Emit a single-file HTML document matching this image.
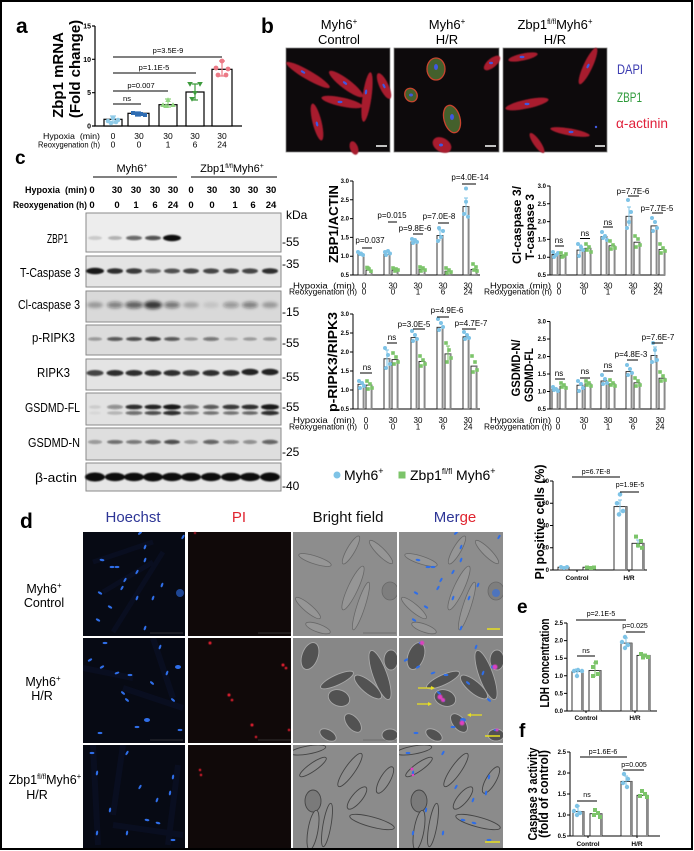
<!DOCTYPE html>
<html><head><meta charset="utf-8"><style>
html,body{margin:0;padding:0;background:#fff;}
svg{display:block;font-family:"Liberation Sans",Arial,sans-serif;}
</style></head><body>
<svg width="694" height="851" viewBox="0 0 694 851" xmlns="http://www.w3.org/2000/svg" xmlns:xlink="http://www.w3.org/1999/xlink">
<defs>
<filter id="bl" x="-30%" y="-150%" width="160%" height="400%"><feGaussianBlur stdDeviation="0.8"/></filter>
<filter id="bl2" x="-30%" y="-150%" width="160%" height="400%"><feGaussianBlur stdDeviation="1.5"/></filter>
<filter id="gl" x="-50%" y="-50%" width="200%" height="200%"><feGaussianBlur stdDeviation="0.5"/></filter>
<filter id="sf" x="-20%" y="-20%" width="140%" height="140%"><feGaussianBlur stdDeviation="0.6"/></filter>
<clipPath id="cp"><rect x="0" y="0" width="104" height="105"/></clipPath>
<g id="hd1">
<g fill="#2f6ee8"><ellipse cx="57" cy="1" rx="2.4" ry="1.1" transform="rotate(-40 57 1)"/><ellipse cx="100" cy="5" rx="2.4" ry="1.1" transform="rotate(-60 100 5)"/><ellipse cx="19" cy="28" rx="2.4" ry="1.1" transform="rotate(10 19 28)"/><ellipse cx="29" cy="35" rx="2.4" ry="1.1"/><ellipse cx="34" cy="35" rx="2.4" ry="1.1"/><ellipse cx="62" cy="15" rx="2.4" ry="1.1" transform="rotate(-70 62 15)"/><ellipse cx="62" cy="28" rx="2.4" ry="1.1" transform="rotate(-70 62 28)"/><ellipse cx="54" cy="40" rx="2.4" ry="1.1" transform="rotate(-60 54 40)"/><ellipse cx="42" cy="48" rx="2.4" ry="1.1" transform="rotate(-60 42 48)"/><ellipse cx="39" cy="56" rx="2.4" ry="1.1" transform="rotate(-60 39 56)"/><ellipse cx="17" cy="61" rx="2.4" ry="1.1" transform="rotate(30 17 61)"/><ellipse cx="54" cy="66" rx="2.4" ry="1.1" transform="rotate(-70 54 66)"/><ellipse cx="70" cy="66" rx="2.4" ry="1.1" transform="rotate(-70 70 66)"/><ellipse cx="79" cy="53" rx="2.4" ry="1.1" transform="rotate(-70 79 53)"/><ellipse cx="27" cy="75" rx="2.4" ry="1.1" transform="rotate(30 27 75)"/><ellipse cx="15" cy="88" rx="2.4" ry="1.1" transform="rotate(30 15 88)"/><ellipse cx="62" cy="96" rx="2.4" ry="1.1" transform="rotate(-70 62 96)"/><ellipse cx="97" cy="61" rx="4" ry="4" opacity="0.6"/></g>
</g>
<g id="hd2">
<g fill="#2f6ee8"><ellipse cx="22" cy="5" rx="2.4" ry="1.1"/><ellipse cx="7" cy="22" rx="2.4" ry="1.1" transform="rotate(-30 7 22)"/><ellipse cx="19" cy="29" rx="2.4" ry="1.1" transform="rotate(-30 19 29)"/><ellipse cx="34" cy="35" rx="2.4" ry="1.1" transform="rotate(-20 34 35)"/><ellipse cx="47" cy="37" rx="2.4" ry="1.1"/><ellipse cx="77" cy="9" rx="2.4" ry="1.1" transform="rotate(-70 77 9)"/><ellipse cx="84" cy="35" rx="2.4" ry="1.1" transform="rotate(-70 84 35)"/><ellipse cx="95" cy="29" rx="3" ry="2"/><ellipse cx="69" cy="45" rx="2.4" ry="1.1" transform="rotate(40 69 45)"/><ellipse cx="40" cy="55" rx="2.4" ry="1.1" transform="rotate(40 40 55)"/><ellipse cx="44" cy="62" rx="2.4" ry="1.1" transform="rotate(40 44 62)"/><ellipse cx="64" cy="82" rx="3" ry="2"/><ellipse cx="54" cy="89" rx="2.4" ry="1.1"/><ellipse cx="17" cy="95" rx="2.4" ry="1.1"/><ellipse cx="97" cy="92" rx="2.4" ry="1.1"/><ellipse cx="90" cy="62" rx="2.4" ry="1.1" transform="rotate(40 90 62)"/></g>
</g>
<g id="hd3">
<g fill="#2f6ee8"><ellipse cx="9" cy="8" rx="2.4" ry="1.1"/><ellipse cx="14" cy="28" rx="2.4" ry="1.1" transform="rotate(-80 14 28)"/><ellipse cx="44" cy="8" rx="2.4" ry="1.1" transform="rotate(-60 44 8)"/><ellipse cx="57" cy="42" rx="2.4" ry="1.1" transform="rotate(-60 57 42)"/><ellipse cx="74" cy="55" rx="2.4" ry="1.1" transform="rotate(-70 74 55)"/><ellipse cx="90" cy="32" rx="2.4" ry="1.1" transform="rotate(-80 90 32)"/><ellipse cx="27" cy="65" rx="2.4" ry="1.1" transform="rotate(-80 27 65)"/><ellipse cx="64" cy="75" rx="2.4" ry="1.1" transform="rotate(10 64 75)"/><ellipse cx="44" cy="88" rx="2.4" ry="1.1" transform="rotate(-80 44 88)"/><ellipse cx="87" cy="48" rx="2.4" ry="1.1" transform="rotate(-80 87 48)"/><ellipse cx="14" cy="88" rx="2.4" ry="1.1" transform="rotate(-80 14 88)"/><ellipse cx="90" cy="95" rx="2.4" ry="1.1"/><ellipse cx="75" cy="78" rx="2.4" ry="1.1" transform="rotate(15 75 78)"/></g>
</g>
<g id="bf1">
<rect x="0" y="0" width="104" height="105" fill="#8d8d8d"/>
<g fill="#969696" stroke="#686868" stroke-width="0.8">
<ellipse cx="22" cy="28" rx="17" ry="4" transform="rotate(18 22 28)"/>
<ellipse cx="58" cy="18" rx="16" ry="4" transform="rotate(-60 58 18)"/>
<ellipse cx="60" cy="56" rx="24" ry="5" transform="rotate(-65 60 56)"/>
<ellipse cx="68" cy="74" rx="25" ry="4" transform="rotate(-72 68 74)"/>
<ellipse cx="15" cy="76" rx="16" ry="4" transform="rotate(40 15 76)"/>
<ellipse cx="97" cy="59" rx="8" ry="9" fill="#7e7e7e"/>
<ellipse cx="25" cy="96" rx="13" ry="4" transform="rotate(20 25 96)"/>
<ellipse cx="88" cy="20" rx="16" ry="4" transform="rotate(45 88 20)"/>
</g>
</g>
<g id="bf2">
<rect x="0" y="0" width="104" height="105" fill="#878787"/>
<g fill="#525252" stroke="#a8a8a8" stroke-width="0.9">
<ellipse cx="17" cy="18" rx="8" ry="14" transform="rotate(20 17 18)"/>
<ellipse cx="87" cy="37" rx="26" ry="7" transform="rotate(70 87 37)"/>
<ellipse cx="44" cy="42" rx="18" ry="5" transform="rotate(-25 44 42)"/>
<ellipse cx="75" cy="49" rx="17" ry="6" transform="rotate(40 75 49)"/>
<ellipse cx="46" cy="60" rx="11" ry="8" transform="rotate(20 46 60)"/>
<ellipse cx="98" cy="22" rx="7" ry="10"/>
<ellipse cx="60" cy="85" rx="11" ry="6" transform="rotate(50 60 85)"/>
<ellipse cx="35" cy="97" rx="9" ry="5" transform="rotate(30 35 97)"/>
<ellipse cx="97" cy="97" rx="8" ry="6"/>
</g>
</g>
<g id="bf3">
<rect x="0" y="0" width="104" height="105" fill="#8b8b8b"/>
<g fill="#8e8e8e" stroke="#444" stroke-width="0.9">
<ellipse cx="20" cy="22" rx="16" ry="4" transform="rotate(-35 20 22)"/>
<ellipse cx="57" cy="25" rx="20" ry="5" transform="rotate(-55 57 25)"/>
<ellipse cx="92" cy="35" rx="15" ry="5" transform="rotate(-60 92 35)"/>
<ellipse cx="20" cy="56" rx="8" ry="11" fill="#7a7a7a"/>
<ellipse cx="64" cy="53" rx="14" ry="5" transform="rotate(-50 64 53)"/>
<ellipse cx="20" cy="85" rx="20" ry="5" transform="rotate(-80 20 85)"/>
<ellipse cx="79" cy="77" rx="23" ry="5" transform="rotate(15 79 77)"/>
<ellipse cx="34" cy="80" rx="22" ry="4" transform="rotate(-80 34 80)"/>
<ellipse cx="15" cy="5" rx="18" ry="4" transform="rotate(-10 15 5)"/>
</g>
</g>
</defs>
<rect width="694" height="851" fill="#fff"/>

<!-- ================= PANEL A ================= -->
<text x="16" y="33" font-size="21" font-weight="bold">a</text>
<text transform="translate(63,75) rotate(-90)" text-anchor="middle" font-size="15" font-weight="bold">Zbp1 mRNA</text>
<text transform="translate(80,69) rotate(-90)" text-anchor="middle" font-size="15" font-weight="bold">(Fold change)</text>
<g stroke="#000" stroke-width="1.2" fill="none">
<path d="M95,26V126H242"/>
<path d="M92,26H95M92,59.3H95M92,92.7H95M92,126H95"/>
</g>
<g font-size="7" font-weight="bold" text-anchor="end">
<text x="91" y="28.5">15</text><text x="91" y="61.8">10</text><text x="91" y="95.2">5</text><text x="91" y="128.5">0</text>
</g>
<g fill="#fff" stroke="#000" stroke-width="1.2">
<rect x="104" y="119.3" width="18" height="6.7"/>
<rect x="128" y="113.3" width="21" height="12.7"/>
<rect x="159" y="104.7" width="18" height="21.3"/>
<rect x="186" y="92" width="18" height="34"/>
<rect x="212" y="69.3" width="20" height="56.7"/>
</g>
<g stroke-width="1.2" fill="none">
<path d="M113,116V123M110,116H116M110,123H116" stroke="#8fcbe8"/>
<path d="M138,112V116M135,112H141M135,116H141" stroke="#2f6db3"/>
<path d="M168,99V107M165,99H171M165,107H171" stroke="#8fd57e"/>
<path d="M195,84V100M192,84H198M192,100H198" stroke="#3d9b3d"/>
<path d="M222,61V76M219,61H225M219,76H225" stroke="#ec7a86"/>
</g>
<g fill="#8fcbe8"><circle cx="108" cy="121" r="2.3"/><circle cx="113" cy="118" r="2.3"/><circle cx="118" cy="120" r="2.3"/><circle cx="111" cy="123" r="2.3"/><circle cx="116" cy="122" r="2.3"/></g>
<g fill="#2f6db3"><rect x="131" y="111" width="4" height="4"/><rect x="135" y="112" width="4" height="4"/><rect x="139" y="112" width="4" height="4"/><rect x="143" y="113" width="4" height="4"/></g>
<g fill="#8fd57e"><polygon points="163,102.2 160.2,107 165.8,107"/><polygon points="168,97.2 165.2,102 170.8,102"/><polygon points="173,102.2 170.2,107 175.8,107"/><polygon points="166,103.2 163.2,108 168.8,108"/></g>
<g fill="#3d9b3d"><polygon points="190,86.8 187.2,82 192.8,82"/><polygon points="200,86.8 197.2,82 202.8,82"/><polygon points="195,95.8 192.2,91 197.8,91"/><polygon points="192,101.8 189.2,97 194.8,97"/></g>
<g fill="#ec7a86"><circle cx="222" cy="61" r="2.4"/><circle cx="216" cy="68" r="2.4"/><circle cx="228" cy="69" r="2.4"/><circle cx="218" cy="75" r="2.4"/><circle cx="226" cy="75" r="2.4"/></g>
<g stroke="#000" stroke-width="1"><path d="M113,104H141M113,91H168M113,73H196M113,57H222"/></g>
<g font-size="7.5" text-anchor="middle">
<text x="127" y="101">ns</text><text x="141" y="88">p=0.007</text><text x="154" y="70">p=1.1E-5</text><text x="168" y="53">p=3.5E-9</text>
</g>
<g font-size="8.5" text-anchor="middle">
<text x="113" y="139">0</text><text x="139" y="139">30</text><text x="168" y="139">30</text><text x="195" y="139">30</text><text x="222" y="139">30</text>
<text x="113" y="147.5">0</text><text x="139" y="147.5">0</text><text x="168" y="147.5">1</text><text x="195" y="147.5">6</text><text x="222" y="147.5">24</text>
</g>
<text x="43" y="139" font-size="8.5" textLength="57" lengthAdjust="spacingAndGlyphs">Hypoxia&#160;&#160;(min)</text>
<text x="38" y="147.5" font-size="8.5" textLength="62" lengthAdjust="spacingAndGlyphs">Reoxygenation (h)</text>

<!-- ================= PANEL B ================= -->
<text x="261" y="33" font-size="21" font-weight="bold">b</text>
<g font-size="13" text-anchor="middle">
<text x="339" y="29">Myh6<tspan font-size="8" dy="-5">+</tspan></text>
<text x="339" y="44">Control</text>
<text x="447" y="29">Myh6<tspan font-size="8" dy="-5">+</tspan></text>
<text x="447" y="44">H/R</text>
<text x="555" y="29">Zbp1<tspan font-size="7" dy="-5">fl/fl</tspan><tspan dy="5">Myh6</tspan><tspan font-size="8" dy="-5">+</tspan></text>
<text x="555" y="44">H/R</text>
</g>
<rect x="286" y="48" width="104" height="104" fill="#0d0a0c" stroke="#888" stroke-width="0.8"/>
<rect x="394" y="48" width="105" height="104" fill="#0d0a0c" stroke="#888" stroke-width="0.8"/>
<rect x="503" y="48" width="104" height="104" fill="#0d0a0c" stroke="#888" stroke-width="0.8"/>
<g fill="#a81e2e" filter="url(#sf)">
<ellipse cx="308" cy="75" rx="25" ry="4.5" transform="rotate(30 308 75)"/>
<ellipse cx="346" cy="84" rx="21" ry="5" transform="rotate(37 346 84)"/>
<ellipse cx="342" cy="102" rx="21" ry="4.5" transform="rotate(12 342 102)"/>
<ellipse cx="317" cy="122" rx="19" ry="4.5" transform="rotate(76 317 122)"/>
<ellipse cx="367" cy="97" rx="25" ry="4.5" transform="rotate(98 367 97)"/>
<ellipse cx="384" cy="86" rx="14" ry="4.5" transform="rotate(65 384 86)"/>
<ellipse cx="354" cy="148" rx="7" ry="4" transform="rotate(70 354 148)"/>
<ellipse cx="492" cy="63" rx="10" ry="4.5" transform="rotate(-40 492 63)"/>
<ellipse cx="442" cy="145" rx="10" ry="7" transform="rotate(30 442 145)"/>
<ellipse cx="523" cy="57" rx="15" ry="3.5" transform="rotate(-12 523 57)"/>
<ellipse cx="588" cy="66" rx="20" ry="4.5" transform="rotate(-65 588 66)"/>
<ellipse cx="527" cy="104" rx="22" ry="4.5" transform="rotate(-12 527 104)"/>
<ellipse cx="570" cy="132" rx="20" ry="3.5" transform="rotate(10 570 132)"/>
<ellipse cx="537" cy="143" rx="12" ry="3.5" transform="rotate(55 537 143)"/>
</g>
<g fill="#44602c" stroke="#c8442e" stroke-width="1.3">
<ellipse cx="436" cy="69" rx="9" ry="11"/>
<ellipse cx="411" cy="95" rx="6" ry="7" transform="rotate(-30 411 95)"/>
<ellipse cx="452" cy="119" rx="8" ry="14" transform="rotate(-15 452 119)"/>
</g>
<g fill="#4058e0">
<ellipse cx="303" cy="72" rx="2.5" ry="1.2" transform="rotate(30 303 72)"/><ellipse cx="345" cy="83" rx="2.5" ry="1.2" transform="rotate(37 345 83)"/><ellipse cx="340" cy="102" rx="2.5" ry="1.2"/><ellipse cx="317" cy="124" rx="2.5" ry="1.2" transform="rotate(76 317 124)"/><ellipse cx="366" cy="92" rx="2.5" ry="1.2" transform="rotate(98 366 92)"/><ellipse cx="384" cy="86" rx="2.5" ry="1.2" transform="rotate(65 384 86)"/>
<ellipse cx="436" cy="67" rx="2" ry="3"/><ellipse cx="411" cy="95" rx="2" ry="1.5"/><ellipse cx="452" cy="117" rx="2" ry="3"/><ellipse cx="491" cy="63" rx="2" ry="1.2"/><ellipse cx="441" cy="145" rx="2" ry="1.5"/>
<ellipse cx="522" cy="57" rx="2.5" ry="1.2"/><ellipse cx="588" cy="66" rx="2.5" ry="1.2" transform="rotate(-65 588 66)"/><ellipse cx="527" cy="104" rx="2.5" ry="1.2"/><ellipse cx="571" cy="132" rx="2.5" ry="1.2"/><circle cx="596" cy="127" r="1.2"/>
</g>
<g stroke="#fff" stroke-width="1.5"><path d="M376,146H387M485,146H496M595,146H605"/></g>
<text x="617" y="74" font-size="14" fill="#3a3ab0" textLength="26" lengthAdjust="spacingAndGlyphs">DAPI</text>
<text x="617" y="102" font-size="14" fill="#2e9a3a" textLength="25" lengthAdjust="spacingAndGlyphs">ZBP1</text>
<text x="616" y="128" font-size="14" fill="#e0203a" textLength="52" lengthAdjust="spacingAndGlyphs">α-actinin</text>

<!-- ================= PANEL C BLOT ================= -->
<text x="15" y="164" font-size="19" font-weight="bold">c</text>
<g font-size="11" text-anchor="middle">
<text x="132" y="172">Myh6<tspan font-size="7" dy="-4">+</tspan></text>
<text x="232" y="172">Zbp1<tspan font-size="6" dy="-4">fl/fl</tspan><tspan dy="4">Myh6</tspan><tspan font-size="7" dy="-4">+</tspan></text>
</g>
<path d="M93,177H177M191,177H277" stroke="#000" stroke-width="1"/>
<g font-size="9.5" font-weight="bold">
<text x="25" y="193" textLength="62" lengthAdjust="spacingAndGlyphs">Hypoxia&#160;&#160;(min)</text>
<text x="13" y="208" textLength="74" lengthAdjust="spacingAndGlyphs">Reoxygenation (h)</text>
</g>
<g font-size="9.5" font-weight="bold" text-anchor="middle">
<text x="92" y="193">0</text><text x="117" y="193">30</text><text x="136" y="193">30</text><text x="155" y="193">30</text><text x="173" y="193">30</text><text x="191" y="193">0</text><text x="212" y="193">30</text><text x="235" y="193">30</text><text x="253" y="193">30</text><text x="271" y="193">30</text>
<text x="92" y="208">0</text><text x="117" y="208">0</text><text x="136" y="208">1</text><text x="155" y="208">6</text><text x="173" y="208">24</text><text x="191" y="208">0</text><text x="212" y="208">0</text><text x="235" y="208">1</text><text x="253" y="208">6</text><text x="271" y="208">24</text>
</g>
<text x="286" y="219" font-size="12">kDa</text>
<g stroke="#8a8a8a" stroke-width="1">
<rect x="86" y="213" width="195" height="39" fill="#ededed"/>
<rect x="86" y="256" width="195" height="31" fill="#e4e4e4"/>
<rect x="86" y="291" width="195" height="31" fill="#d9d9d9"/>
<rect x="86" y="325" width="195" height="30" fill="#dcdcdc"/>
<rect x="86" y="359" width="195" height="31" fill="#e4e4e4"/>
<rect x="86" y="393" width="195" height="32" fill="#e2e2e2"/>
<rect x="86" y="428" width="195" height="32" fill="#dedede"/>
<rect x="86" y="463" width="195" height="28" fill="#e6e6e6"/>
</g>
<g fill="#111" filter="url(#bl)">
<ellipse cx="95" cy="238" rx="7" ry="2" opacity="0.15"/><ellipse cx="115" cy="238" rx="7" ry="2" opacity="0.25"/><ellipse cx="134" cy="238" rx="8" ry="2.3" opacity="0.6"/><ellipse cx="153" cy="238" rx="8" ry="2.3" opacity="0.7"/><ellipse cx="172" cy="238" rx="9" ry="3.2" opacity="1"/>
<ellipse cx="95" cy="271" rx="9" ry="3.2" opacity="0.95"/><ellipse cx="115" cy="271" rx="8" ry="2.8" opacity="0.85"/><ellipse cx="134" cy="271" rx="8" ry="2.8" opacity="0.8"/><ellipse cx="153" cy="271" rx="8" ry="2.3" opacity="0.6"/><ellipse cx="172" cy="271" rx="8" ry="2.5" opacity="0.7"/><ellipse cx="191" cy="271" rx="8" ry="2.6" opacity="0.75"/><ellipse cx="211" cy="271" rx="8" ry="2.6" opacity="0.75"/><ellipse cx="231" cy="271" rx="8" ry="2.6" opacity="0.75"/><ellipse cx="250" cy="271" rx="8" ry="2.6" opacity="0.75"/><ellipse cx="270" cy="271" rx="8" ry="2.8" opacity="0.85"/>
<ellipse cx="95" cy="339" rx="7" ry="1.8" opacity="0.35"/><ellipse cx="115" cy="339" rx="8" ry="2" opacity="0.65"/><ellipse cx="134" cy="339" rx="8" ry="2" opacity="0.7"/><ellipse cx="153" cy="339" rx="8" ry="2.2" opacity="0.8"/><ellipse cx="172" cy="339" rx="8" ry="2" opacity="0.65"/><ellipse cx="191" cy="339" rx="7" ry="1.8" opacity="0.3"/><ellipse cx="211" cy="339" rx="8" ry="2" opacity="0.5"/><ellipse cx="231" cy="339" rx="7" ry="1.8" opacity="0.2"/><ellipse cx="250" cy="339" rx="7" ry="1.8" opacity="0.3"/><ellipse cx="270" cy="339" rx="7" ry="1.8" opacity="0.35"/>
<ellipse cx="95" cy="373" rx="8.5" ry="3" opacity="0.75"/><ellipse cx="115" cy="373" rx="8.5" ry="3" opacity="0.85"/><ellipse cx="134" cy="373" rx="8.5" ry="3" opacity="0.85"/><ellipse cx="153" cy="373" rx="8.5" ry="3" opacity="0.85"/><ellipse cx="172" cy="373" rx="8.5" ry="3" opacity="0.85"/><ellipse cx="191" cy="373" rx="8.5" ry="3" opacity="0.8"/><ellipse cx="211" cy="373" rx="8.5" ry="3" opacity="0.85"/><ellipse cx="231" cy="373" rx="8.5" ry="3" opacity="0.85"/><ellipse cx="250" cy="372" rx="8.5" ry="3.2" opacity="0.9"/><ellipse cx="270" cy="372" rx="8.5" ry="3.2" opacity="0.9"/>
<ellipse cx="95" cy="407" rx="6" ry="1.8" opacity="0.1"/><ellipse cx="115" cy="407" rx="8" ry="2.2" opacity="0.4"/><ellipse cx="134" cy="407" rx="8.5" ry="2.4" opacity="0.85"/><ellipse cx="153" cy="407" rx="8.5" ry="2.4" opacity="0.9"/><ellipse cx="172" cy="407" rx="9" ry="2.6" opacity="0.95"/><ellipse cx="191" cy="407" rx="8" ry="2.2" opacity="0.55"/><ellipse cx="211" cy="407" rx="8" ry="2.2" opacity="0.65"/><ellipse cx="231" cy="407" rx="8.5" ry="2.4" opacity="0.8"/><ellipse cx="250" cy="407" rx="8.5" ry="2.4" opacity="0.85"/><ellipse cx="270" cy="407" rx="9" ry="2.8" opacity="0.95"/>
<ellipse cx="95" cy="413" rx="6" ry="1.5" opacity="0.05"/><ellipse cx="115" cy="413" rx="8" ry="1.8" opacity="0.2"/><ellipse cx="134" cy="413" rx="8.5" ry="2" opacity="0.55"/><ellipse cx="153" cy="413" rx="8.5" ry="2" opacity="0.7"/><ellipse cx="172" cy="413" rx="9" ry="2.2" opacity="0.85"/><ellipse cx="191" cy="413" rx="8" ry="1.8" opacity="0.5"/><ellipse cx="211" cy="413" rx="8" ry="1.8" opacity="0.55"/><ellipse cx="231" cy="413" rx="8" ry="1.8" opacity="0.55"/><ellipse cx="250" cy="413" rx="8" ry="1.8" opacity="0.6"/><ellipse cx="270" cy="413" rx="9" ry="2.2" opacity="0.85"/>
<ellipse cx="95" cy="442" rx="7" ry="2" opacity="0.35"/><ellipse cx="115" cy="442" rx="8" ry="2" opacity="0.55"/><ellipse cx="134" cy="442" rx="8" ry="2" opacity="0.5"/><ellipse cx="153" cy="442" rx="8" ry="2.2" opacity="0.6"/><ellipse cx="172" cy="442" rx="8" ry="2.2" opacity="0.7"/><ellipse cx="191" cy="442" rx="7" ry="2" opacity="0.3"/><ellipse cx="211" cy="442" rx="8" ry="2.2" opacity="0.6"/><ellipse cx="231" cy="442" rx="8" ry="2" opacity="0.45"/><ellipse cx="250" cy="442" rx="7" ry="2" opacity="0.4"/><ellipse cx="270" cy="442" rx="8" ry="2.2" opacity="0.6"/>
<ellipse cx="95" cy="477" rx="10" ry="4.5"/><ellipse cx="115" cy="477" rx="10" ry="4.2"/><ellipse cx="134" cy="477" rx="10" ry="4.2"/><ellipse cx="153" cy="477" rx="10" ry="4.5"/><ellipse cx="172" cy="477" rx="10" ry="4.2"/><ellipse cx="191" cy="477" rx="10" ry="4.2"/><ellipse cx="211" cy="477" rx="10" ry="4.2"/><ellipse cx="231" cy="477" rx="10" ry="4.2"/><ellipse cx="250" cy="477" rx="10" ry="4.2"/><ellipse cx="270" cy="477" rx="10" ry="4.5"/>
</g>
<g fill="#111" filter="url(#bl2)">
<ellipse cx="95" cy="305" rx="8" ry="3" opacity="0.3"/><ellipse cx="115" cy="305" rx="8" ry="3.2" opacity="0.45"/><ellipse cx="134" cy="305" rx="9" ry="3.5" opacity="0.6"/><ellipse cx="153" cy="305" rx="9" ry="4" opacity="0.8"/><ellipse cx="172" cy="305" rx="8" ry="3.2" opacity="0.5"/><ellipse cx="191" cy="305" rx="8" ry="3" opacity="0.25"/><ellipse cx="211" cy="305" rx="8" ry="3" opacity="0.1"/><ellipse cx="231" cy="305" rx="8" ry="3" opacity="0.35"/><ellipse cx="250" cy="305" rx="8" ry="3.2" opacity="0.45"/><ellipse cx="270" cy="305" rx="8" ry="3" opacity="0.3"/>
</g>
<g font-size="12.5">
<text x="47" y="243" textLength="21" lengthAdjust="spacingAndGlyphs">ZBP1</text>
<text x="20" y="277" textLength="60" lengthAdjust="spacingAndGlyphs">T-Caspase 3</text>
<text x="18" y="309" textLength="62" lengthAdjust="spacingAndGlyphs">Cl-caspase 3</text>
<text x="32" y="342" textLength="43" lengthAdjust="spacingAndGlyphs">p-RIPK3</text>
<text x="37" y="377" textLength="33" lengthAdjust="spacingAndGlyphs">RIPK3</text>
<text x="25" y="412" textLength="55" lengthAdjust="spacingAndGlyphs">GSDMD-FL</text>
<text x="28" y="447" textLength="52" lengthAdjust="spacingAndGlyphs">GSDMD-N</text>
<text x="35" y="482" textLength="42" lengthAdjust="spacingAndGlyphs">β-actin</text>
</g>
<g font-size="12">
<text x="282" y="246">-55</text><text x="282" y="268">-35</text><text x="282" y="316">-15</text><text x="282" y="347">-55</text><text x="282" y="381">-55</text><text x="282" y="411">-55</text><text x="282" y="456">-25</text><text x="282" y="490">-40</text>
</g>

<!-- ================= RIGHT CHARTS (panel c quant) ================= -->
<g font-weight="bold">
<text transform="translate(338,224) rotate(-90)" text-anchor="middle" font-size="12.5" textLength="78" lengthAdjust="spacingAndGlyphs">ZBP1/ACTIN</text>
<text transform="translate(337,362) rotate(-90)" text-anchor="middle" font-size="12.5" textLength="100" lengthAdjust="spacingAndGlyphs">p-RIPK3/RIPK3</text>
<text transform="translate(521,225) rotate(-90)" text-anchor="middle" font-size="12" textLength="78" lengthAdjust="spacingAndGlyphs">Cl-caspase 3/</text>
<text transform="translate(534,227) rotate(-90)" text-anchor="middle" font-size="12" textLength="66" lengthAdjust="spacingAndGlyphs">T-caspase 3</text>
<text transform="translate(520,368) rotate(-90)" text-anchor="middle" font-size="11.5" textLength="57" lengthAdjust="spacingAndGlyphs">GSDMD-N/</text>
<text transform="translate(533,375) rotate(-90)" text-anchor="middle" font-size="11.5" textLength="54" lengthAdjust="spacingAndGlyphs">GSDMD-FL</text>
</g>
<g stroke="#000" stroke-width="1" fill="none">
<path d="M353,181V275H480M350,181H353M350,199.8H353M350,218.6H353M350,237.4H353M350,256.2H353M350,275H353"/>
<path d="M550,186V275H665M547,186H550M547,203.8H550M547,221.6H550M547,239.4H550M547,257.2H550M547,275H550"/>
<path d="M353,314V409H480M350,314H353M350,333H353M350,352H353M350,371H353M350,390H353M350,409H353"/>
<path d="M550,321.5V409H665M547,321.5H550M547,339H550M547,356.5H550M547,374H550M547,391.5H550M547,409H550"/>
</g>
<g font-size="6" font-weight="bold" text-anchor="end">
<text x="349" y="183">3.0</text><text x="349" y="201.8">2.5</text><text x="349" y="220.6">2.0</text><text x="349" y="239.4">1.5</text><text x="349" y="258.2">1.0</text><text x="349" y="277">0.5</text>
<text x="546" y="188">3.0</text><text x="546" y="205.8">2.5</text><text x="546" y="223.6">2.0</text><text x="546" y="241.4">1.5</text><text x="546" y="259.2">1.0</text><text x="546" y="277">0.5</text>
<text x="349" y="316">3.0</text><text x="349" y="335">2.5</text><text x="349" y="354">2.0</text><text x="349" y="373">1.5</text><text x="349" y="392">1.0</text><text x="349" y="411">0.5</text>
<text x="546" y="323.5">3.0</text><text x="546" y="341">2.5</text><text x="546" y="358.5">2.0</text><text x="546" y="376">1.5</text><text x="546" y="393.5">1.0</text><text x="546" y="411">0.5</text>
</g>
<g fill="#fff" stroke="#222" stroke-width="0.9">
<rect x="358" y="254.3" width="6" height="20.7"/><rect x="366" y="270.1" width="6" height="4.9"/>
<rect x="384" y="254.3" width="6" height="20.7"/><rect x="392" y="270.1" width="6" height="4.9"/>
<rect x="411" y="241.9" width="6" height="33.1"/><rect x="419" y="269.4" width="6" height="5.6"/>
<rect x="437" y="235.5" width="6" height="39.5"/><rect x="445" y="271.2" width="6" height="3.8"/>
<rect x="463" y="206.6" width="6" height="68.4"/><rect x="471" y="269.4" width="6" height="5.6"/>
<rect x="552" y="254.4" width="6" height="20.6"/><rect x="560" y="255.4" width="6" height="19.6"/>
<rect x="577" y="250.1" width="6" height="24.9"/><rect x="585" y="248.3" width="6" height="26.7"/>
<rect x="601" y="236.6" width="6" height="38.4"/><rect x="609" y="245.8" width="6" height="29.2"/>
<rect x="626" y="216.3" width="6" height="58.7"/><rect x="634" y="242.2" width="6" height="32.8"/>
<rect x="651" y="225.9" width="6" height="49.1"/><rect x="659" y="249.4" width="6" height="25.6"/>
<rect x="358" y="384.3" width="6" height="24.7"/><rect x="366" y="385.1" width="6" height="23.9"/>
<rect x="384" y="358.8" width="6" height="50.2"/><rect x="392" y="359.6" width="6" height="49.4"/>
<rect x="411" y="337.6" width="6" height="71.4"/><rect x="419" y="361.5" width="6" height="47.5"/>
<rect x="437" y="327.3" width="6" height="81.7"/><rect x="445" y="353.9" width="6" height="55.1"/>
<rect x="463" y="336.8" width="6" height="72.2"/><rect x="471" y="366.1" width="6" height="42.9"/>
<rect x="552" y="389.1" width="6" height="19.9"/><rect x="560" y="386.3" width="6" height="22.7"/>
<rect x="577" y="385.2" width="6" height="23.8"/><rect x="585" y="383.8" width="6" height="25.2"/>
<rect x="601" y="381" width="6" height="28"/><rect x="609" y="383.8" width="6" height="25.2"/>
<rect x="626" y="371.6" width="6" height="37.4"/><rect x="634" y="382.8" width="6" height="26.2"/>
<rect x="651" y="355.5" width="6" height="53.5"/><rect x="659" y="378.2" width="6" height="30.8"/>
</g>
<g stroke="#8a8a8a" stroke-width="1.8">
<path d="M363.5,254.3V275M371.5,270.1V275M389.5,254.3V275M397.5,270.1V275M416.5,241.9V275M424.5,269.4V275M442.5,235.5V275M450.5,271.2V275M468.5,206.6V275M476.5,269.4V275"/>
<path d="M557.5,254.4V275M565.5,255.4V275M582.5,250.1V275M590.5,248.3V275M606.5,236.6V275M614.5,245.8V275M631.5,216.3V275M639.5,242.2V275M656.5,225.9V275M664.5,249.4V275"/>
<path d="M363.5,384.3V409M371.5,385.1V409M389.5,358.8V409M397.5,359.6V409M416.5,337.6V409M424.5,361.5V409M442.5,327.3V409M450.5,353.9V409M468.5,336.8V409M476.5,366.1V409"/>
<path d="M557.5,389.1V409M565.5,386.3V409M582.5,385.2V409M590.5,383.8V409M606.5,381V409M614.5,383.8V409M631.5,371.6V409M639.5,382.8V409M656.5,355.5V409M664.5,378.2V409"/>
</g>
<g stroke="#7ec3e6" stroke-width="1" fill="none">
<path d="M440,230V241M438,230H442M466,198V215M464,198H468M580,245V255M578,245H582M629,207V226M627,207H631M387,350V367M385,350H389M655,347V363M653,347H657"/>
</g>
<g stroke="#7cc46a" stroke-width="1" fill="none">
<path d="M448,346V361M446,346H450"/>
</g>
<g fill="#7ec3e6">
<circle cx="358" cy="252" r="2"/><circle cx="361" cy="253.5" r="2"/><circle cx="363" cy="255" r="2"/><circle cx="360" cy="254" r="2"/>
<circle cx="385" cy="252" r="2"/><circle cx="388" cy="251" r="2"/><circle cx="390" cy="253.5" r="2"/><circle cx="386" cy="255" r="2"/>
<circle cx="412" cy="239" r="2"/><circle cx="415" cy="240" r="2"/><circle cx="417" cy="242" r="2"/><circle cx="413" cy="243" r="2"/>
<circle cx="439" cy="228" r="2"/><circle cx="443" cy="231" r="2"/><circle cx="441" cy="237" r="2"/><circle cx="438" cy="241" r="2"/>
<circle cx="466" cy="188.5" r="2"/><circle cx="466" cy="201.7" r="2"/><circle cx="464" cy="214" r="2"/><circle cx="468" cy="216.7" r="2"/>
<circle cx="553" cy="252" r="2"/><circle cx="556" cy="255" r="2"/><circle cx="558" cy="253" r="2"/><circle cx="554" cy="257" r="2"/>
<circle cx="578" cy="244" r="2"/><circle cx="581" cy="247" r="2"/><circle cx="583" cy="250" r="2"/><circle cx="579" cy="256" r="2"/>
<circle cx="602" cy="232" r="2"/><circle cx="605" cy="236" r="2"/><circle cx="607" cy="240" r="2"/><circle cx="603" cy="238" r="2"/>
<circle cx="628" cy="200" r="2"/><circle cx="631" cy="212" r="2"/><circle cx="629" cy="222" r="2"/><circle cx="627" cy="228" r="2"/>
<circle cx="652" cy="218" r="2"/><circle cx="655" cy="222" r="2"/><circle cx="657" cy="228" r="2"/><circle cx="653" cy="231" r="2"/>
<circle cx="359" cy="381" r="2"/><circle cx="362" cy="383" r="2"/><circle cx="364" cy="386" r="2"/><circle cx="360" cy="388" r="2"/>
<circle cx="385" cy="348" r="2"/><circle cx="388" cy="355" r="2"/><circle cx="390" cy="364" r="2"/><circle cx="386" cy="368" r="2"/>
<circle cx="412" cy="331" r="2"/><circle cx="415" cy="335" r="2"/><circle cx="417" cy="339" r="2"/><circle cx="413" cy="341" r="2"/>
<circle cx="438" cy="319" r="2"/><circle cx="441" cy="323" r="2"/><circle cx="443" cy="327" r="2"/><circle cx="439" cy="330" r="2"/>
<circle cx="464" cy="332" r="2"/><circle cx="467" cy="335" r="2"/><circle cx="469" cy="338" r="2"/><circle cx="465" cy="339" r="2"/>
<circle cx="553" cy="387" r="2"/><circle cx="556" cy="389" r="2"/><circle cx="558" cy="391" r="2"/><circle cx="554" cy="390" r="2"/>
<circle cx="578" cy="381" r="2"/><circle cx="581" cy="384" r="2"/><circle cx="583" cy="388" r="2"/><circle cx="579" cy="391" r="2"/>
<circle cx="602" cy="375" r="2"/><circle cx="605" cy="379" r="2"/><circle cx="607" cy="383" r="2"/><circle cx="603" cy="384" r="2"/>
<circle cx="627" cy="365" r="2"/><circle cx="630" cy="369" r="2"/><circle cx="632" cy="373" r="2"/><circle cx="628" cy="375" r="2"/>
<circle cx="653" cy="343" r="2"/><circle cx="655" cy="350" r="2"/><circle cx="657" cy="360" r="2"/><circle cx="652" cy="362" r="2"/>
</g>
<g fill="#7cc46a">
<rect x="365.2" y="265.7" width="3.6" height="3.6"/><rect x="367.2" y="267.2" width="3.6" height="3.6"/><rect x="369.2" y="269.4" width="3.6" height="3.6"/><rect x="366.2" y="266.4" width="3.6" height="3.6"/>
<rect x="391.2" y="266.2" width="3.6" height="3.6"/><rect x="394.2" y="267.2" width="3.6" height="3.6"/><rect x="396.2" y="268.2" width="3.6" height="3.6"/><rect x="393.2" y="269.2" width="3.6" height="3.6"/>
<rect x="418.2" y="265.2" width="3.6" height="3.6"/><rect x="421.2" y="266.2" width="3.6" height="3.6"/><rect x="423.2" y="268.2" width="3.6" height="3.6"/><rect x="419.2" y="269.2" width="3.6" height="3.6"/>
<rect x="444.2" y="266.2" width="3.6" height="3.6"/><rect x="447.2" y="268.2" width="3.6" height="3.6"/><rect x="449.2" y="270.2" width="3.6" height="3.6"/><rect x="445.2" y="271.2" width="3.6" height="3.6"/>
<rect x="471.2" y="262.2" width="3.6" height="3.6"/><rect x="474.2" y="265.2" width="3.6" height="3.6"/><rect x="472.2" y="268.2" width="3.6" height="3.6"/><rect x="475.2" y="269.2" width="3.6" height="3.6"/>
<rect x="559.2" y="251.2" width="3.6" height="3.6"/><rect x="562.2" y="254.2" width="3.6" height="3.6"/><rect x="564.2" y="252.2" width="3.6" height="3.6"/><rect x="560.2" y="255.2" width="3.6" height="3.6"/>
<rect x="584.2" y="242.2" width="3.6" height="3.6"/><rect x="587.2" y="245.2" width="3.6" height="3.6"/><rect x="589.2" y="250.2" width="3.6" height="3.6"/><rect x="585.2" y="248.2" width="3.6" height="3.6"/>
<rect x="608.2" y="239.2" width="3.6" height="3.6"/><rect x="611.2" y="243.2" width="3.6" height="3.6"/><rect x="613.2" y="246.2" width="3.6" height="3.6"/><rect x="609.2" y="247.2" width="3.6" height="3.6"/>
<rect x="633.2" y="234.2" width="3.6" height="3.6"/><rect x="636.2" y="237.2" width="3.6" height="3.6"/><rect x="638.2" y="243.2" width="3.6" height="3.6"/><rect x="634.2" y="245.2" width="3.6" height="3.6"/>
<rect x="658.2" y="242.2" width="3.6" height="3.6"/><rect x="661.2" y="246.2" width="3.6" height="3.6"/><rect x="663.2" y="249.2" width="3.6" height="3.6"/><rect x="659.2" y="251.2" width="3.6" height="3.6"/>
<rect x="365.2" y="379.2" width="3.6" height="3.6"/><rect x="368.2" y="382.2" width="3.6" height="3.6"/><rect x="370.2" y="386.2" width="3.6" height="3.6"/><rect x="366.2" y="387.2" width="3.6" height="3.6"/>
<rect x="391.2" y="351.2" width="3.6" height="3.6"/><rect x="394.2" y="355.2" width="3.6" height="3.6"/><rect x="396.2" y="360.2" width="3.6" height="3.6"/><rect x="392.2" y="362.2" width="3.6" height="3.6"/>
<rect x="418.2" y="354.2" width="3.6" height="3.6"/><rect x="421.2" y="358.2" width="3.6" height="3.6"/><rect x="423.2" y="362.2" width="3.6" height="3.6"/><rect x="419.2" y="364.2" width="3.6" height="3.6"/>
<rect x="444.2" y="341.2" width="3.6" height="3.6"/><rect x="447.2" y="348.2" width="3.6" height="3.6"/><rect x="449.2" y="356.2" width="3.6" height="3.6"/><rect x="445.2" y="360.2" width="3.6" height="3.6"/>
<rect x="470.2" y="354.2" width="3.6" height="3.6"/><rect x="473.2" y="360.2" width="3.6" height="3.6"/><rect x="475.2" y="368.2" width="3.6" height="3.6"/><rect x="471.2" y="370.2" width="3.6" height="3.6"/>
<rect x="559.2" y="381.2" width="3.6" height="3.6"/><rect x="562.2" y="383.2" width="3.6" height="3.6"/><rect x="564.2" y="386.2" width="3.6" height="3.6"/><rect x="560.2" y="385.2" width="3.6" height="3.6"/>
<rect x="584.2" y="379.2" width="3.6" height="3.6"/><rect x="587.2" y="381.2" width="3.6" height="3.6"/><rect x="589.2" y="384.2" width="3.6" height="3.6"/><rect x="585.2" y="383.2" width="3.6" height="3.6"/>
<rect x="608.2" y="378.2" width="3.6" height="3.6"/><rect x="611.2" y="381.2" width="3.6" height="3.6"/><rect x="613.2" y="384.2" width="3.6" height="3.6"/><rect x="609.2" y="383.2" width="3.6" height="3.6"/>
<rect x="633.2" y="376.2" width="3.6" height="3.6"/><rect x="636.2" y="379.2" width="3.6" height="3.6"/><rect x="638.2" y="383.2" width="3.6" height="3.6"/><rect x="634.2" y="384.2" width="3.6" height="3.6"/>
<rect x="658.2" y="370.2" width="3.6" height="3.6"/><rect x="661.2" y="374.2" width="3.6" height="3.6"/><rect x="663.2" y="378.2" width="3.6" height="3.6"/><rect x="659.2" y="379.2" width="3.6" height="3.6"/>
</g>
<g stroke="#000" stroke-width="1">
<path d="M362,248H372M388,222H397M413,234H423M438,223H449M462,184H476"/>
<path d="M555,246H564M580,238.5H590M603,227H613M628,196H639M652,213H663"/>
<path d="M360,373H372M387,343H397M413,329H425M437,317H449M462,329H476"/>
<path d="M555,379H565M580,378H590M603,371H613M627,360H638M652,343H663"/>
</g>
<g font-size="8" text-anchor="middle">
<text x="370" y="243">p=0.037</text><text x="392" y="218">p=0.015</text><text x="415" y="231">p=9.8E-6</text><text x="439" y="219">p=7.0E-8</text><text x="470" y="180">p=4.0E-14</text>
<text x="559" y="243">ns</text><text x="585" y="236">ns</text><text x="608" y="225">ns</text><text x="633" y="194">p=7.7E-6</text><text x="657" y="211">p=7.7E-5</text>
<text x="367" y="370">ns</text><text x="392" y="340">ns</text><text x="414" y="327">p=3.0E-5</text><text x="447" y="313">p=4.9E-6</text><text x="471" y="326">p=4.7E-7</text>
<text x="559" y="376">ns</text><text x="585" y="374">ns</text><text x="608" y="368">ns</text><text x="631" y="357">p=4.8E-3</text><text x="658" y="340">p=7.6E-7</text>
</g>
<g font-size="8">
<text x="293" y="288.5" textLength="62" lengthAdjust="spacingAndGlyphs">Hypoxia&#160;&#160;(min)</text>
<text x="289" y="294.5" textLength="68" lengthAdjust="spacingAndGlyphs">Reoxygenation (h)</text>
<text x="490" y="288.5" textLength="61" lengthAdjust="spacingAndGlyphs">Hypoxia&#160;&#160;(min)</text>
<text x="484" y="294.5" textLength="68" lengthAdjust="spacingAndGlyphs">Reoxygenation (h)</text>
<text x="293" y="423" textLength="62" lengthAdjust="spacingAndGlyphs">Hypoxia&#160;&#160;(min)</text>
<text x="289" y="429.5" textLength="68" lengthAdjust="spacingAndGlyphs">Reoxygenation (h)</text>
<text x="490" y="423" textLength="61" lengthAdjust="spacingAndGlyphs">Hypoxia&#160;&#160;(min)</text>
<text x="484" y="429.5" textLength="68" lengthAdjust="spacingAndGlyphs">Reoxygenation (h)</text>
</g>
<g font-size="8" text-anchor="middle">
<text x="364" y="288.5">0</text><text x="393" y="288.5">30</text><text x="418" y="288.5">30</text><text x="443" y="288.5">30</text><text x="468" y="288.5">30</text>
<text x="364" y="294.5">0</text><text x="393" y="294.5">0</text><text x="418" y="294.5">1</text><text x="443" y="294.5">6</text><text x="468" y="294.5">24</text>
<text x="559" y="288.5">0</text><text x="584" y="288.5">30</text><text x="608" y="288.5">30</text><text x="633" y="288.5">30</text><text x="658" y="288.5">30</text>
<text x="559" y="294.5">0</text><text x="584" y="294.5">0</text><text x="608" y="294.5">1</text><text x="633" y="294.5">6</text><text x="658" y="294.5">24</text>
<text x="366" y="423">0</text><text x="393" y="423">30</text><text x="418" y="423">30</text><text x="443" y="423">30</text><text x="468" y="423">30</text>
<text x="366" y="429.5">0</text><text x="393" y="429.5">0</text><text x="418" y="429.5">1</text><text x="443" y="429.5">6</text><text x="468" y="429.5">24</text>
<text x="558" y="423">0</text><text x="584" y="423">30</text><text x="608" y="423">30</text><text x="633" y="423">30</text><text x="660" y="423">30</text>
<text x="558" y="429.5">0</text><text x="584" y="429.5">0</text><text x="608" y="429.5">1</text><text x="633" y="429.5">6</text><text x="660" y="429.5">24</text>
</g>

<!-- legend -->
<circle cx="337" cy="475" r="3.5" fill="#7ec3e6"/>
<text x="344" y="480" font-size="14">Myh6<tspan font-size="9" dy="-6">+</tspan></text>
<rect x="398.5" y="471.5" width="7" height="7" fill="#7cc46a"/>
<text x="410" y="480" font-size="14">Zbp1<tspan font-size="8" dy="-6">fl/fl</tspan><tspan dy="6"> Myh6</tspan><tspan font-size="9" dy="-6">+</tspan></text>

<!-- ================= PI chart ================= -->
<text transform="translate(544,522) rotate(-90)" text-anchor="middle" font-size="12.5" font-weight="bold" textLength="115" lengthAdjust="spacingAndGlyphs">PI positive cells (%)</text>
<g stroke="#000" stroke-width="1" fill="none">
<path d="M553,481V570H647M550,481H553M550,503.25H553M550,525.5H553M550,547.75H553M550,570H553M577,570V572M629,570V572"/>
</g>
<g font-size="6" font-weight="bold" text-anchor="end">
<text x="549" y="483">80</text><text x="549" y="505.2">60</text><text x="549" y="527.5">40</text><text x="549" y="549.7">20</text><text x="549" y="572">0</text>
</g>
<g fill="#fff" stroke="#222" stroke-width="0.9">
<rect x="558" y="567.2" width="11" height="2.8"/><rect x="583" y="567.2" width="12" height="2.8"/>
<rect x="614" y="506.6" width="13" height="63.4"/><rect x="632" y="543.3" width="12" height="26.7"/>
</g>
<path d="M626,506.6V570M643,543.3V570" stroke="#8a8a8a" stroke-width="2"/>
<path d="M620,500V513M618,500H622M638,540V548M636,540H640" stroke-width="1" fill="none" stroke="#7ec3e6"/>
<g fill="#7ec3e6"><circle cx="561" cy="567" r="2"/><circle cx="564" cy="568" r="2"/><circle cx="567" cy="567" r="2"/><circle cx="620" cy="494.4" r="2.3"/><circle cx="617" cy="503.3" r="2.3"/><circle cx="623" cy="511" r="2.3"/><circle cx="619" cy="514.4" r="2.3"/></g>
<g fill="#7cc46a"><rect x="585" y="565.5" width="4" height="4"/><rect x="589" y="566" width="4" height="4"/><rect x="592" y="565.5" width="4" height="4"/><rect x="634" y="534.6" width="4" height="4"/><rect x="639" y="539" width="4" height="4"/><rect x="636" y="543.5" width="4" height="4"/><rect x="640" y="545.8" width="4" height="4"/></g>
<path d="M572,477H620M620,492H639" stroke="#000" stroke-width="1"/>
<g font-size="7" text-anchor="middle"><text x="596" y="474">p=6.7E-8</text><text x="630" y="487">p=1.9E-5</text></g>
<g font-size="6.5" font-weight="bold" text-anchor="middle"><text x="577" y="580">Control</text><text x="629" y="580">H/R</text></g>

<!-- ================= PANEL E ================= -->
<text x="517" y="613" font-size="19" font-weight="bold">e</text>
<text transform="translate(549,663) rotate(-90)" text-anchor="middle" font-size="12.5" font-weight="bold" textLength="89" lengthAdjust="spacingAndGlyphs">LDH concentration</text>
<g stroke="#000" stroke-width="1" fill="none">
<path d="M567,623V711H657M564,623H567M564,640.6H567M564,658.2H567M564,675.8H567M564,693.4H567M564,711H567M586,711V713M635,711V713"/>
</g>
<g font-size="6" font-weight="bold" text-anchor="end">
<text x="563" y="625">2.5</text><text x="563" y="642.6">2.0</text><text x="563" y="660.2">1.5</text><text x="563" y="677.8">1.0</text><text x="563" y="695.4">0.5</text><text x="563" y="713">0.0</text>
</g>
<g fill="#fff" stroke="#222" stroke-width="0.9">
<rect x="572" y="671.6" width="11" height="39.4"/><rect x="589" y="670.5" width="12" height="40.5"/>
<rect x="621" y="643.1" width="11" height="67.9"/><rect x="637" y="655.4" width="13" height="55.6"/>
</g>
<path d="M582,671.6V711M600,670.5V711M631,643.1V711M649,655.4V711" stroke="#8a8a8a" stroke-width="2"/>
<path d="M577,669V675M575,669H579M626,638V648M624,638H628" stroke="#7ec3e6" stroke-width="1" fill="none"/>
<path d="M595,663V677M593,663H597" stroke="#7cc46a" stroke-width="1" fill="none"/>
<g fill="#7ec3e6"><circle cx="574" cy="671" r="2.2"/><circle cx="578" cy="670" r="2.2"/><circle cx="582" cy="671" r="2.2"/><circle cx="577" cy="676" r="2.2"/><circle cx="625" cy="637" r="2.2"/><circle cx="622" cy="642" r="2.2"/><circle cx="628" cy="645" r="2.2"/><circle cx="625" cy="648" r="2.2"/></g>
<g fill="#7cc46a"><rect x="594" y="660.4" width="4" height="4"/><rect x="591" y="665" width="4" height="4"/><rect x="596" y="672" width="4" height="4"/><rect x="591" y="674" width="4" height="4"/><rect x="639" y="652" width="4" height="4"/><rect x="643" y="653.5" width="4" height="4"/><rect x="646" y="655" width="4" height="4"/><rect x="641" y="655.5" width="4" height="4"/></g>
<path d="M576,620H626M626,632H645M577,656H595" stroke="#000" stroke-width="1"/>
<g font-size="7" text-anchor="middle"><text x="601" y="616">p=2.1E-5</text><text x="635" y="628">p=0.025</text><text x="586" y="653">ns</text></g>
<g font-size="6.5" font-weight="bold" text-anchor="middle"><text x="586" y="720">Control</text><text x="635" y="720">H/R</text></g>

<!-- ================= PANEL F ================= -->
<text x="519" y="737" font-size="19" font-weight="bold">f</text>
<text transform="translate(537,794) rotate(-90)" text-anchor="middle" font-size="12.5" font-weight="bold" textLength="93" lengthAdjust="spacingAndGlyphs">Caspase 3 activity</text>
<text transform="translate(548,794) rotate(-90)" text-anchor="middle" font-size="12.5" font-weight="bold" textLength="88" lengthAdjust="spacingAndGlyphs">(fold of control)</text>
<g stroke="#000" stroke-width="1" fill="none">
<path d="M570,752V836H660M567,752H570M567,773H570M567,794H570M567,815H570M567,836H570M588,836V838M637,836V838"/>
</g>
<g font-size="6" font-weight="bold" text-anchor="end">
<text x="566" y="754">2.5</text><text x="566" y="775">2.0</text><text x="566" y="796">1.5</text><text x="566" y="817">1.0</text><text x="566" y="838">0.5</text>
</g>
<g fill="#fff" stroke="#222" stroke-width="0.9">
<rect x="573" y="811.6" width="11" height="24.4"/><rect x="590" y="813.7" width="12" height="22.3"/>
<rect x="621" y="781.4" width="11" height="54.6"/><rect x="637" y="795.3" width="11" height="40.7"/>
</g>
<path d="M583,811.6V836M601,813.7V836M631,781.4V836M647,795.3V836" stroke="#8a8a8a" stroke-width="2"/>
<path d="M578,806V816M576,806H580M626,776V787M624,776H628" stroke="#7ec3e6" stroke-width="1" fill="none"/>
<g fill="#7ec3e6"><circle cx="577" cy="806" r="2.2"/><circle cx="574" cy="811" r="2.2"/><circle cx="580" cy="813" r="2.2"/><circle cx="577" cy="815" r="2.2"/><circle cx="624" cy="774" r="2.2"/><circle cx="628" cy="779" r="2.2"/><circle cx="623" cy="783" r="2.2"/><circle cx="627" cy="787" r="2.2"/></g>
<g fill="#7cc46a"><rect x="593" y="808" width="4" height="4"/><rect x="596" y="811" width="4" height="4"/><rect x="592" y="813" width="4" height="4"/><rect x="598" y="815" width="4" height="4"/><rect x="640" y="789" width="4" height="4"/><rect x="643" y="792" width="4" height="4"/><rect x="638" y="794" width="4" height="4"/><rect x="645" y="795" width="4" height="4"/></g>
<path d="M580,757H627M623,770H644M577,801H597" stroke="#000" stroke-width="1"/>
<g font-size="7" text-anchor="middle"><text x="603" y="754">p=1.6E-6</text><text x="634" y="767">p=0.005</text><text x="587" y="797">ns</text></g>
<g font-size="6.5" font-weight="bold" text-anchor="middle"><text x="588" y="846">Control</text><text x="637" y="846">H/R</text></g>

<!-- ================= PANEL D ================= -->
<text x="20" y="528" font-size="21" font-weight="bold">d</text>
<g font-size="15" text-anchor="middle">
<text x="133" y="522" fill="#2d3596">Hoechst</text>
<text x="239" y="522" fill="#e0242f">PI</text>
<text x="348" y="522" fill="#111">Bright field</text>
<text x="455" y="522"><tspan fill="#2d3596">Mer</tspan><tspan fill="#e0242f">ge</tspan></text>
</g>
<g font-size="12.5" text-anchor="middle">
<text x="44" y="593">Myh6<tspan font-size="8" dy="-5">+</tspan></text>
<text x="44" y="607">Control</text>
<text x="43" y="686">Myh6<tspan font-size="8" dy="-5">+</tspan></text>
<text x="42" y="700">H/R</text>
<text x="45" y="784">Zbp1<tspan font-size="7" dy="-5">fl/fl</tspan><tspan dy="5">Myh6</tspan><tspan font-size="8" dy="-5">+</tspan></text>
<text x="37" y="799">H/R</text>
</g>
<!-- Hoechst -->
<g transform="translate(83,532)" clip-path="url(#cp)"><rect width="104" height="105" fill="#070a14"/><g stroke="#0b1128" stroke-width="5" opacity="0.6" fill="none"><path d="M10,30L70,10M20,60L70,30M30,100L80,20"/></g><use xlink:href="#hd1"/></g>
<g transform="translate(83,638)" clip-path="url(#cp)"><rect width="104" height="105" fill="#070a14"/><g stroke="#0b1128" stroke-width="6" opacity="0.6" fill="none"><path d="M0,30L50,40M40,50L100,70M70,0L90,60"/></g><use xlink:href="#hd2"/></g>
<g transform="translate(83,745)" clip-path="url(#cp)"><rect width="104" height="105" fill="#070a14"/><g stroke="#0b1128" stroke-width="6" opacity="0.6" fill="none"><path d="M10,0L15,100M40,0L30,70M95,20L85,100M30,80L100,90"/></g><use xlink:href="#hd3"/></g>
<!-- PI -->
<rect x="188" y="532" width="103" height="104" fill="#100909"/>
<rect x="188" y="638" width="103" height="105" fill="#100909"/>
<rect x="188" y="745" width="103" height="104" fill="#100909"/>
<g fill="#ee2030" filter="url(#gl)">
<circle cx="195" cy="533" r="1"/>
<circle cx="210" cy="643" r="1.5"/><circle cx="283" cy="665" r="1.5"/><circle cx="286" cy="668" r="1.3"/><circle cx="229" cy="695" r="1.5"/><circle cx="232" cy="700" r="1.3"/><circle cx="252" cy="725" r="1.5"/><circle cx="256" cy="737" r="1.2"/><circle cx="289" cy="730" r="1.2"/>
<circle cx="200" cy="770" r="1.2"/><circle cx="201" cy="775" r="1.2"/>
</g>
<!-- Bright field -->
<g transform="translate(293,532)" clip-path="url(#cp)"><use xlink:href="#bf1"/></g>
<g transform="translate(293,638)" clip-path="url(#cp)"><use xlink:href="#bf2"/></g>
<g transform="translate(293,745)" clip-path="url(#cp)"><use xlink:href="#bf3"/></g>
<!-- Merge -->
<g transform="translate(399,532)" clip-path="url(#cp)"><use xlink:href="#bf1"/><use xlink:href="#hd1"/></g>
<g transform="translate(399,638)" clip-path="url(#cp)"><use xlink:href="#bf2"/><use xlink:href="#hd2"/>
<g fill="#e040c0" filter="url(#gl)"><circle cx="23" cy="5" r="2.2"/><circle cx="96" cy="29" r="2.5"/><circle cx="41" cy="59" r="2.5"/><circle cx="44" cy="62" r="2"/><circle cx="63" cy="85" r="2.5"/><circle cx="98" cy="92" r="1.5"/></g>
</g>
<g transform="translate(399,745)" clip-path="url(#cp)"><use xlink:href="#bf3"/><use xlink:href="#hd3"/><g fill="#e040c0"><circle cx="13" cy="24" r="1.5"/><circle cx="14" cy="30" r="1.3"/></g></g>
<!-- yellow arrows & scale bars -->
<g stroke="#e8e020" stroke-width="1.2" fill="none"><path d="M418,688H432M417,704H429M470,715H482"/></g>
<g fill="#e8e020"><polygon points="435,688 431,686 431,690"/><polygon points="432,704 428,702 428,706"/><polygon points="467,715 471,713 471,717"/></g>
<g stroke="#e8e020" stroke-width="1.5"><path d="M487,629H500M485,736H500M485,842H500"/></g>
<g stroke="#555" stroke-width="0.6"><path d="M150,633H183M258,633H291M363,633H396M150,740H183M258,740H291M363,740H396"/></g>
<!-- white gaps between images -->
<g fill="#fff"><rect x="185" y="530" width="3" height="320"/><rect x="291" y="530" width="2" height="320"/><rect x="397" y="530" width="2" height="320"/><rect x="80" y="636" width="425" height="2"/><rect x="80" y="743" width="425" height="2"/></g>

<!-- border -->
<rect x="1" y="1" width="691" height="848" fill="none" stroke="#000" stroke-width="2"/>
</svg>
</body></html>
